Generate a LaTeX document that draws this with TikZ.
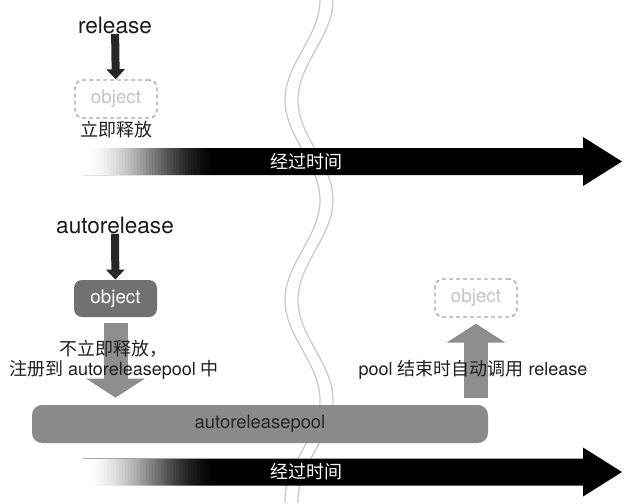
\documentclass[tikz,border=0pt]{standalone}
\usepackage{fontspec}
\setmainfont{TeX Gyre Heros}
\newfontfamily\cjk{Noto Sans CJK SC}
\usetikzlibrary{arrows.meta}

\definecolor{objgray}{HTML}{717171}
\definecolor{passgray}{HTML}{8E8E8E}
\definecolor{poolgray}{HTML}{8A8A8A}
\definecolor{ghostline}{HTML}{A9A9A9}
\definecolor{ghosttext}{HTML}{C4C4C4}

\tikzset{
  msg/.style={font=\fontsize{11.3}{13}\selectfont,text=black!90,inner sep=0pt},
  note/.style={font=\fontsize{9}{10}\selectfont,text=black!88,align=center,inner sep=0pt},
  ghostobj/.style={draw=ghostline,dash pattern=on 2pt off 1.5pt,line width=0.7pt,rounded corners=4pt,
    minimum width=41pt,minimum height=19pt,text=ghosttext,font=\fontsize{9.4}{11}\selectfont},
  liveobj/.style={fill=objgray,rounded corners=4pt,minimum width=41.5pt,minimum height=18.5pt,
    text=white,font=\fontsize{9.4}{11}\selectfont},
  callarrow/.style={draw=black!85,line width=4pt,-{Triangle[length=5pt,width=9pt]}},
  passarrow/.style={draw=passgray,line width=12pt,-{Triangle[length=9.5pt,width=29pt]}},
  wave/.style={draw=black!22,line width=0.6pt}
}

\begin{document}
\begin{tikzpicture}[x=0.5pt,y=-0.5pt]
\useasboundingbox (0,0) rectangle (641,503);
\draw[wave] plot[domain=0:503,samples=90,smooth] ({302.5+17.5*cos(1.8*\x)},\x);
\draw[wave] plot[domain=0:503,samples=90,smooth] ({315.5+17.5*cos(1.8*\x)},\x);
\foreach \ty/\nm in {161.5/pass1,472/pass2}{
  \fill[black] (83,\ty-13.5) -- (583,\ty-13.5) -- (583,\ty-24.5) -- (622,\ty)
    -- (583,\ty+24.5) -- (583,\ty+13.5) -- (83,\ty+13.5) -- cycle;
  \foreach \i in {0,...,44}
    \fill[white,fill opacity={1-3*(\i/45)^2+2*(\i/45)^3}] (83+3*\i,\ty-13.5) rectangle (86+3*\i,\ty+13.5);
  \node[note,text=white] (\nm) at (306,\ty) {\cjk 经过时间};
}
\node[msg] (rel) at (115,25) {release};
\node[ghostobj] (obj1) at (116,99) {object};
\node[note] (now) at (116,130) {\cjk 立即释放};
\draw[callarrow] (rel) -- (obj1);
\node[msg] (arel) at (115,225) {autorelease};
\node[liveobj] (obj2) at (115.5,298.5) {object};
\draw[callarrow] (arel) -- (obj2);
\node[fill=poolgray,rounded corners=5pt,minimum width=228pt,minimum height=19pt,
  text=black!85,font=\fontsize{9.2}{11}\selectfont] (pool) at (260,424) {autoreleasepool};
\node[ghostobj] (obj3) at (476,298) {object};
\draw[passarrow,shorten <=3pt,shorten >=3.5pt] (obj2) -- (obj2 |- pool.north);
\draw[passarrow,shorten <=3.5pt,shorten >=3pt] (obj3 |- pool.north) -- (obj3);
\node[note] (later) at (114,360) {{\cjk 不立即释放，}\\{\cjk 注册到} autoreleasepool {\cjk 中}};
\node[note] (drain) at (473,370) {pool {\cjk 结束时自动调用} release};
\end{tikzpicture}
\end{document}
